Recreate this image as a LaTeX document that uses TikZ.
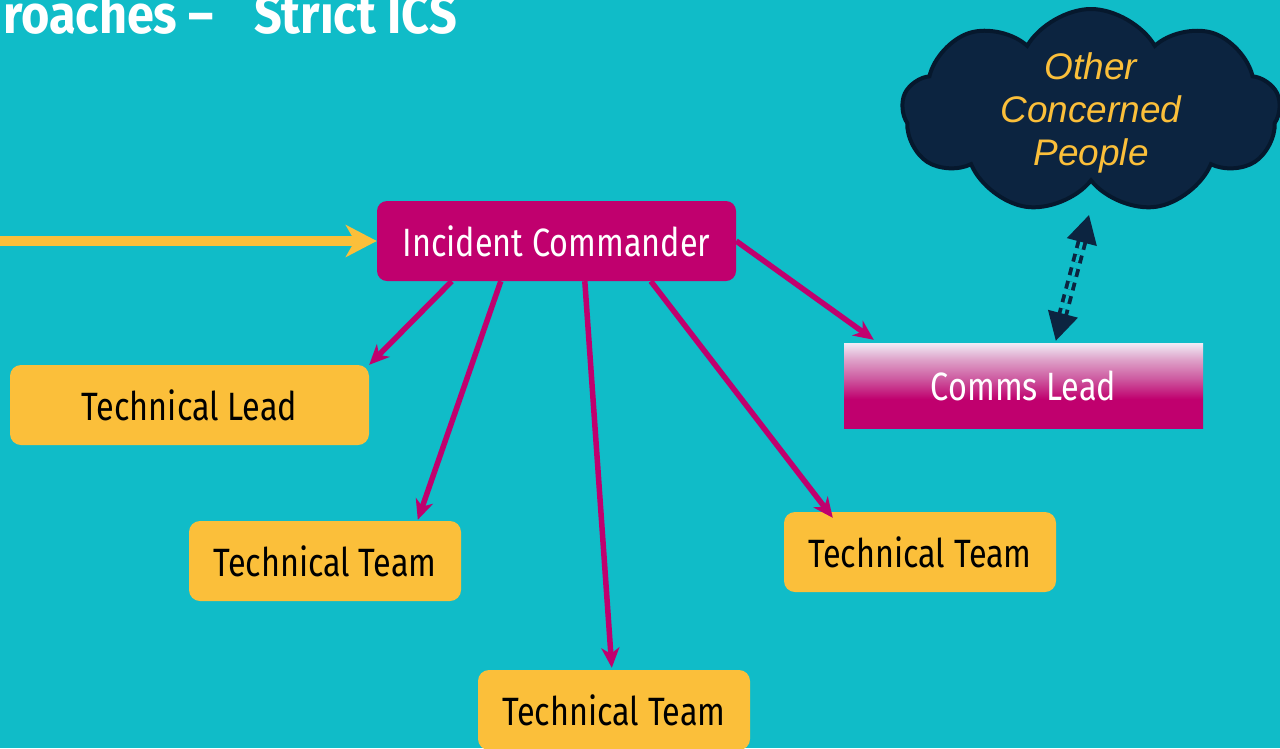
\documentclass[tikz,border=0pt]{standalone}
\usepackage{fontspec}
\usetikzlibrary{arrows.meta,shapes.symbols,calc}
\newfontfamily\nodefont[FakeStretch=0.82]{Fira Sans}
\newfontfamily\titlefont[FakeStretch=0.9]{Fira Sans}
\newfontfamily\cloudfont{Liberation Sans}
\definecolor{bgteal}{RGB}{16,188,200}
\definecolor{icmag}{RGB}{192,0,110}
\definecolor{boxgold}{RGB}{251,191,58}
\definecolor{cloudfill}{RGB}{12,36,64}
\definecolor{cloudline}{RGB}{6,24,45}
\definecolor{commsmid}{RGB}{205,90,160}
\definecolor{commspale}{RGB}{222,160,200}
\definecolor{commstop}{RGB}{240,236,246}
\pgfdeclareverticalshading{commsgrad}{100bp}{color(0bp)=(icmag); color(42bp)=(icmag); color(54bp)=(commsmid); color(65bp)=(commspale); color(75bp)=(commstop); color(100bp)=(commstop)}
\tikzset{
  icbox/.style={rectangle, rounded corners=10pt, fill=icmag, text=white, minimum width=359pt, minimum height=80pt, inner sep=0pt, font=\nodefont\fontsize{39.5}{44}\selectfont},
  teambox/.style={rectangle, rounded corners=11pt, fill=boxgold, text=black, minimum height=80pt, inner sep=0pt, font=\nodefont\fontsize{39.5}{44}\selectfont},
  commsbox/.style={rectangle, shading=commsgrad, text=white, minimum width=359pt, minimum height=85pt, inner sep=0pt, font=\nodefont\fontsize{39.5}{44}\selectfont},
  cloudshape/.style={cloud, cloud puffs=9, cloud puff arc=120, fill=cloudfill, draw=cloudline, line width=4pt, minimum width=378pt, minimum height=204pt, inner sep=0pt},
  cloudtext/.style={text=boxgold, align=center, inner sep=0pt, font=\cloudfont\itshape\fontsize{37}{43}\selectfont},
  magarrow/.style={draw=icmag, line width=5.5pt, -{Stealth[length=20pt,width=18pt,inset=6pt]}},
  goldarrow/.style={draw=boxgold, line width=10pt, -{Stealth[length=31pt,width=32pt,inset=9pt]}},
  navyarrow/.style={draw=cloudfill, line width=3.8pt, double=bgteal, double distance=3pt, dash pattern=on 8pt off 6pt, {Triangle[length=28pt,width=30pt]}-{Triangle[length=28pt,width=30pt]}},
  titletext/.style={text=white, inner sep=0pt, anchor=base west, font=\titlefont\bfseries\fontsize{54}{60}\selectfont}
}
\begin{document}
\begin{tikzpicture}[x=1pt,y=-1pt]
\useasboundingbox (0,0) rectangle (1280,748);
\fill[bgteal] (0,0) rectangle (1280,748);
\begin{scope}
\clip (0,0) rectangle (1280,748);
\node[titletext] (title) at (3,33) {roaches –\hspace{40pt}Strict ICS};
\node[icbox] (ic) at (556.5,241) {Incident Commander};
\node[teambox, minimum width=359pt] (tl) at (189.5,405) {Technical Lead};
\node[teambox, minimum width=272pt] (tt1) at (325,561) {Technical Team};
\node[teambox, minimum width=272pt] (tt2) at (614,710) {Technical Team};
\node[teambox, minimum width=272pt] (tt3) at (920,552) {Technical Team};
\node[commsbox] (comms) at (1023.5,385.5) {Comms Lead};
\node[cloudshape] (cloud) at (1091,111) {};
\node[cloudtext] (cloudlbl) at (1091,113) {Other\\Concerned\\People};
\coordinate (ystart) at (-5,241);
\draw[goldarrow] (ystart) -- (ic.west);
\draw[magarrow] ($(ic.south west)+(75,0)$) -- (tl.north east);
\draw[magarrow] ($(ic.south west)+(124,0)$) -- ($(tt1.north west)+(229,-1)$);
\draw[magarrow] ($(ic.south west)+(208,0)$) -- ($(tt2.north west)+(134,-2)$);
\draw[magarrow] ($(ic.south west)+(274,0)$) -- ($(tt3.north west)+(49,6)$);
\draw[magarrow] (ic.east) -- ($(comms.north west)+(30,-3)$);
\coordinate (cA) at (1089,215);
\coordinate (cB) at ($(comms.north west)+(212,-2)$);
\draw[navyarrow] (cA) -- (cB);
\end{scope}
\end{tikzpicture}
\end{document}
